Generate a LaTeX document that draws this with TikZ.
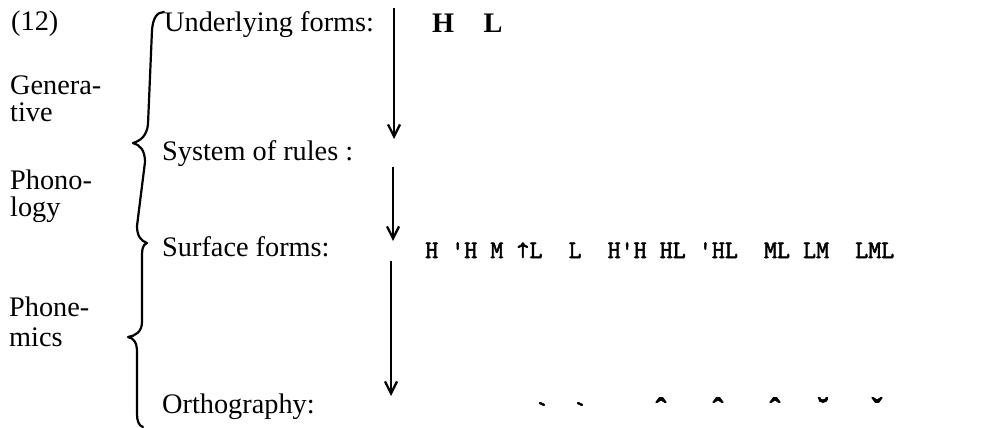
\documentclass[tikz,border=0pt]{standalone}
\usepackage{fontspec}
\setmainfont{Liberation Serif}
\setmonofont{Latin Modern Mono}[FakeBold=2]
\newfontfamily\accentfont{Liberation Serif Bold}[FakeBold=2.5]
\usetikzlibrary{arrows.meta}
\begin{document}
\begin{tikzpicture}[x=1pt,y=-1pt,
  lbl/.style={anchor=base west,inner sep=0pt,font=\fontsize{28.3}{34}\selectfont},
  tw/.style={anchor=base west,inner sep=0pt,font=\fontsize{25.3}{30}\selectfont\ttfamily},
  tonemark/.style={anchor=base,inner sep=0pt,font=\fontsize{32}{36}\selectfont\accentfont},
  flow/.style={line width=2.5pt,-{Straight Barb[length=12pt,width=12pt,line width=2.3pt]}},
  bracepath/.style={line width=2.2pt,line cap=round,line join=round}]
\useasboundingbox (0,0) rectangle (1006,428);

% example number and the three side labels
\node[lbl] (num) at (11,31) {(12)};
\node[lbl] (gen1) at (10,94) {Genera-};
\node[lbl] (gen2) at (10,121) {tive};
\node[lbl] (pho1) at (10,189) {Phono-};
\node[lbl] (pho2) at (10,216) {logy};
\node[lbl] (phm1) at (9,316) {Phone-};
\node[lbl] (phm2) at (9,346) {mics};

% level names
\node[lbl] (under) at (164,32) {Underlying forms:};
\node[lbl] (rules) at (162,160) {System of rules :};
\node[lbl] (surf) at (162,256) {Surface forms:};
\node[lbl] (orth) at (162,413) {Orthography:};

% underlying tones
\node[lbl,font=\fontsize{28.3}{34}\selectfont\bfseries] (ul) at (432,33) {H\hspace{29.5pt}L};

% surface tone patterns
\node[tw] (sforms) at (425,258) {H~'H~M~↑L~~L~~H'H~HL~'HL~~ML~LM~~LML};

% tone marks of the spelling
\node[tonemark,font=\fontsize{27}{30}\selectfont\ttfamily] (o1) at (542,419) {`};
\node[tonemark,font=\fontsize{27}{30}\selectfont\ttfamily] (o2) at (580,419) {`};
\node[tonemark] (o3) at (661,420) {ˆ};
\node[tonemark] (o4) at (718,420) {ˆ};
\node[tonemark] (o5) at (775,420) {ˆ};
\node[tonemark] (o6) at (823,420) {˘};
\node[tonemark] (o7) at (877,420) {ˇ};

% derivation arrows
\coordinate (a1s) at (394,8);   \coordinate (a1e) at (394,139);
\coordinate (a2s) at (393,167); \coordinate (a2e) at (393,241);
\coordinate (a3s) at (391,261); \coordinate (a3e) at (391,396);
\draw[flow] (a1s) -- (a1e);
\draw[flow] (a2s) -- (a2e);
\draw[flow] (a3s) -- (a3e);

% the joined braces
\draw[bracepath] (164,12) .. controls (157,12) and (153,18) .. (152,30)
  -- (148,124) .. controls (147,136) and (140,141) .. (133,143)
  .. controls (140,145) and (145,150) .. (145,162)
  -- (137,226) .. controls (137,236) and (141,241) .. (147,243)
  .. controls (142,245) and (142,250) .. (142,260)
  -- (142,322) .. controls (142,332) and (135,336) .. (128,337)
  .. controls (134,338) and (137,343) .. (137,352)
  -- (137,414) .. controls (137,421) and (139,426) .. (143,427);
\end{tikzpicture}
\end{document}
